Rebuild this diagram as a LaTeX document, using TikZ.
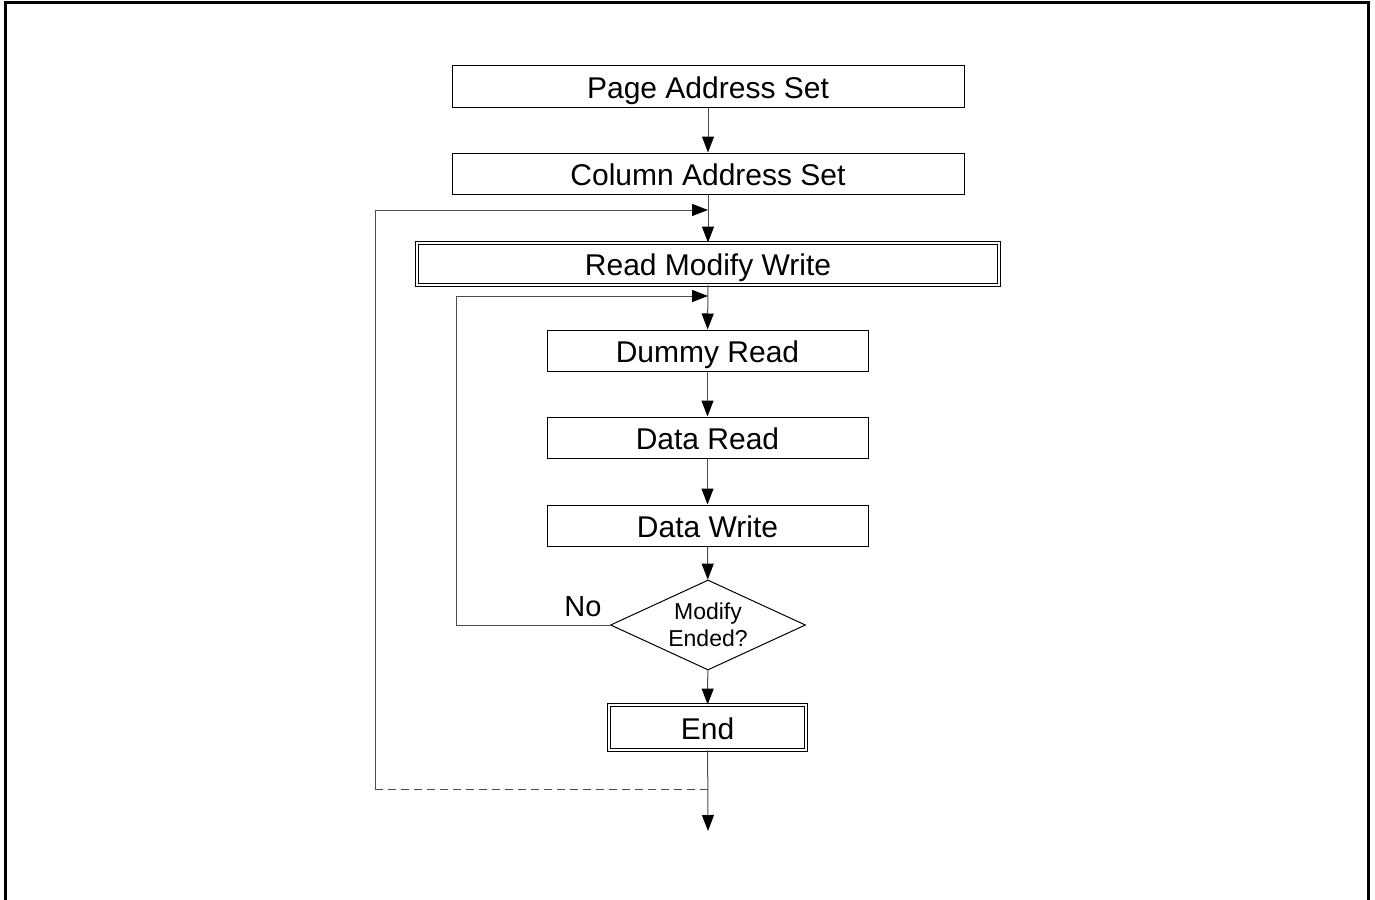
\documentclass[tikz,border=0pt]{standalone}
\usepackage{fontspec}
\setmainfont{Liberation Sans}
\usetikzlibrary{shapes.geometric,arrows.meta}
\begin{document}
\begin{tikzpicture}[x=1pt,y=-1pt,
  box/.style={draw=black,line width=1pt,minimum width=512pt,minimum height=41pt,inner sep=0pt,font=\fontsize{30}{34}\selectfont,text height=23pt,text depth=0pt},
  sbox/.style={box,minimum width=321pt},
  dbox/.style={draw=black,double=white,double distance=2.6pt,line width=0.9pt,inner sep=0pt,font=\fontsize{30}{34}\selectfont,text height=23pt,text depth=0pt},
  dec/.style={draw=black,line width=1pt,shape=diamond,aspect=2.17,inner sep=0pt,minimum width=195pt,minimum height=90pt,align=center,font=\fontsize{23}{27}\selectfont},
  conn/.style={draw=black!70,line width=1pt},
  arr/.style={conn,-{Triangle[length=16pt,width=12pt,color=black]}},
  lbl/.style={font=\fontsize{29}{33}\selectfont}
]
\useasboundingbox (0,0) rectangle (1375,899);
\draw[line width=3pt] (5,905) -- (5,3) -- (1368,3) -- (1368,905);

\node[box] (pas) at (708,86.5) {Page Address Set};
\node[box] (cas) at (708,173.5) {Column Address Set};
\node[dbox,minimum width=582pt,minimum height=42pt] (rmw) at (708,264) {Read Modify Write};
\node[sbox] (dr) at (707.5,350.5) {Dummy Read};
\node[sbox] (dar) at (707.5,437.5) {Data Read};
\node[sbox] (dw) at (707.5,525.5) {Data Write};
\node[dec] (me) at (708,625) {Modify\\Ended?};
\node[dbox,minimum width=197pt,minimum height=45pt] (end) at (707.5,727.5) {End};
\node[lbl] (no) at (583,607) {No};

\coordinate (j1) at (708,210);
\coordinate (j2) at (708,296);
\coordinate (d1) at (708,789);
\coordinate (d2) at (375,789);
\coordinate (d3) at (375,210);
\coordinate (i1) at (456,625);
\coordinate (i2) at (456,296);
\coordinate (out) at (708,831);

\draw[arr] (pas) -- (cas);
\draw[arr] (cas) -- (rmw);
\draw[arr] (rmw) -- (dr);
\draw[arr] (dr) -- (dar);
\draw[arr] (dar) -- (dw);
\draw[arr] (dw) -- (me);
\draw[arr] (me) -- (end);
\draw[arr] (end) -- (out);
\draw[conn,dashed,dash pattern=on 8pt off 5pt] (d1) -- (d2);
\draw[arr] (d2) -- (d3) -- (j1);
\draw[arr] (me.west) -- (i1) -- (i2) -- (j2);
\end{tikzpicture}
\end{document}
